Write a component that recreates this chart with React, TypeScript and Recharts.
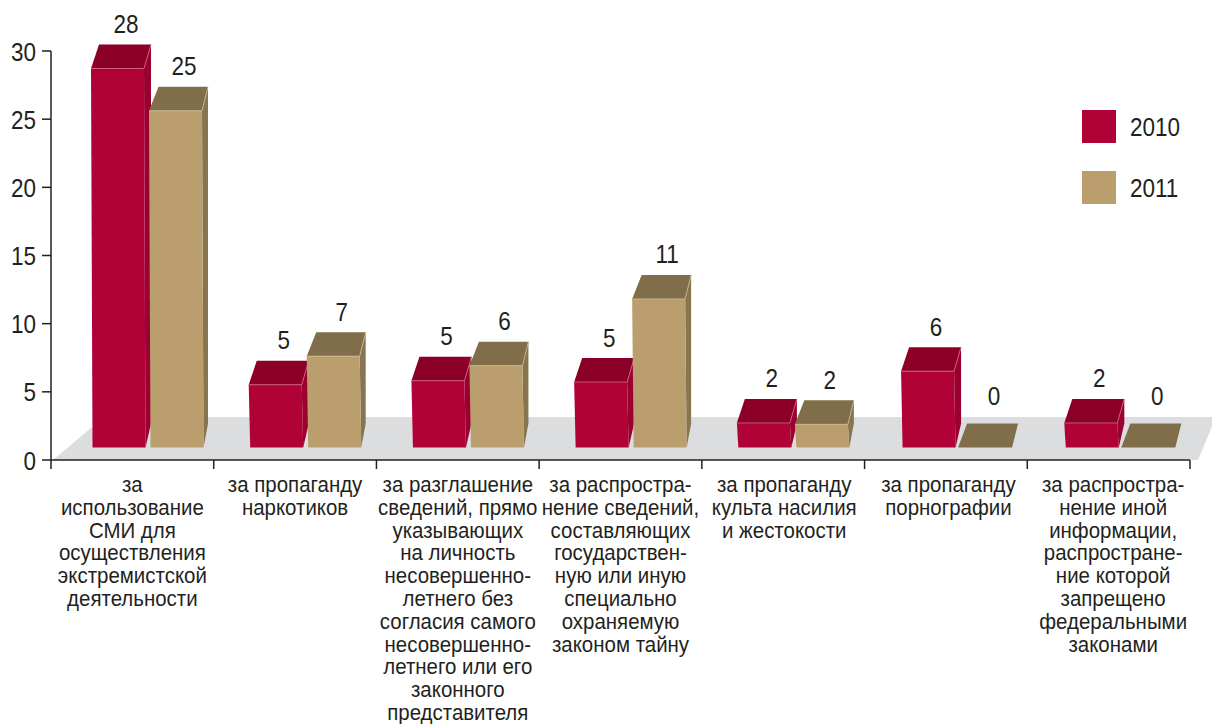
import { BarChart, Bar, XAxis, YAxis, ReferenceArea, LabelList, Legend } from "recharts";

const categories = [
  "за\nиспользование\nСМИ для\nосуществления\nэкстремистской\nдеятельности",
  "за пропаганду\nнаркотиков",
  "за разглашение\nсведений, прямо\nуказывающих\nна личность\nнесовершенно-\nлетнего без\nсогласия самого\nнесовершенно-\nлетнего или его\nзаконного\nпредставителя",
  "за распростра-\nнение сведений,\nсоставляющих\nгосударствен-\nную или иную\nспециально\nохраняемую\nзаконом тайну",
  "за пропаганду\nкульта насилия\nи жестокости",
  "за пропаганду\nпорнографии",
  "за распростра-\nнение иной\nинформации,\nраспростране-\nние которой\nзапрещено\nфедеральными\nзаконами",
];
const values2010 = [27.8, 4.6, 4.9, 4.8, 1.8, 5.6, 1.8];
const values2011 = [24.7, 6.7, 6.0, 10.9, 1.7, 0, 0];
const yTicks = [0, 5, 10, 15, 20, 25, 30];

const data = categories.map((name, i) => ({ name, y2010: values2010[i], y2011: values2011[i] }));

// no narrow face is installed, so the sans is squeezed horizontally
const FONT = "'Liberation Sans', sans-serif";
const SQUEEZE = 0.865;
const LABEL_SQUEEZE = 0.93;
const INK = "#231f20";
const WIDTH = 1212;
const HEIGHT = 724;
const BAND = (1190 - 51) / categories.length;
const BASE_LIFT = 12.5; // bars stand on the floor, not on the axis
const DEPTH = 24;

// the groups are not quite centred in their bands in the original
const groupShifts = [14, 9, 9, 9, 9, 10.5, 11];
const labelShifts = [0, 0, 0, 0, 1, 2.5, 4.5];

function makeBox(front: string, top: string, side: string, edge: string, backL: number, backR: number) {
  return function Box({ x, y, width, height, index }: any) {
    const l = x + groupShifts[index];
    const r = l + width;
    const t = y - BASE_LIFT;
    const b = t + height;
    if (height < 0.5) {
      return <polygon points={`${l - 1},${b} ${r},${b} ${r + 6},${b - DEPTH} ${l + 8},${b - DEPTH}`} fill={top} />;
    }
    return (
      <g>
        <polygon points={`${r},${t} ${r + backR},${t - DEPTH} ${r + backR},${b - DEPTH} ${r + 1.5},${b}`} fill={side} />
        <polygon points={`${l},${t} ${r},${t} ${r + backR},${t - DEPTH} ${l + backL},${t - DEPTH}`} fill={top} />
        <polygon points={`${l},${t} ${r},${t} ${r + 1.5},${b} ${l + 1.5},${b}`} fill={front} />
        <polyline points={`${l},${t} ${r},${t} ${r + backR},${t - DEPTH}`} fill="none" stroke={edge} strokeWidth={0.8} />
      </g>
    );
  };
}

const RedBox = makeBox("#b10238", "#8c0028", "#9a0030", "#d06a88", 8, 7);
const TanBox = makeBox("#bb9e6d", "#806e4a", "#877550", "#cdb996", 9.5, 6);

function ValueLabel({ x, y, width, value, index }: any) {
  const cx = x + width / 2 + groupShifts[index] + 8.5;
  const lift = value === 0 ? 55 : 48;
  return (
    <text
      transform={`translate(${cx} ${y - lift}) scale(${SQUEEZE} 1)`}
      textAnchor="middle"
      fontFamily={FONT}
      fontSize={26}
      fill={INK}
    >
      {Math.round(value)}
    </text>
  );
}

function Floor({ x, y, width, height }: any) {
  const b = y + height;
  return <polygon points={`${x + 2},${b} ${x + 53},${y} ${x + width + 26},${y} ${x + width + 8},${b}`} fill="#dcddde" />;
}

function CategoryTick({ x, y, payload, index }: any) {
  const lines = String(payload.value).split("\n");
  return (
    <g>
      <line x1={x - BAND / 2} x2={x - BAND / 2} y1={y} y2={y + 9} stroke={INK} strokeWidth={1.5} />
      {index === categories.length - 1 && (
        <line x1={x + BAND / 2} x2={x + BAND / 2} y1={y} y2={y + 9} stroke={INK} strokeWidth={1.5} />
      )}
      <text
        transform={`translate(${x + labelShifts[index]} ${y}) scale(${LABEL_SQUEEZE} 1)`}
        textAnchor="middle"
        fontFamily={FONT}
        fontSize={22}
        fill={INK}
      >
        {lines.map((line, i) => (
          <tspan key={i} x={0} y={32 + i * 22.8}>
            {line}
          </tspan>
        ))}
      </text>
    </g>
  );
}

function ValueTick({ x, y, payload }: any) {
  return (
    <text
      transform={`translate(${x} ${y + 9.5}) scale(${SQUEEZE} 1)`}
      textAnchor="end"
      fontFamily={FONT}
      fontSize={26}
      fill={INK}
    >
      {payload.value}
    </text>
  );
}

function SwatchLegend({ payload }: any) {
  return (
    <div style={{ fontFamily: FONT, fontSize: 26, color: INK }}>
      {(payload || []).map((item: any) => (
        <div key={item.value} style={{ display: "flex", alignItems: "center", height: 33, marginBottom: 28 }}>
          <span style={{ width: 34, height: 33, background: item.color, marginRight: 14 }} />
          <span style={{ display: "inline-block", transform: `scaleX(${SQUEEZE})`, transformOrigin: "left", paddingTop: 2 }}>
            {item.value}
          </span>
        </div>
      ))}
    </div>
  );
}

export default function App() {
  return (
    <div style={{ position: "absolute", left: 0, top: 0 }}>
      <BarChart
        width={WIDTH}
        height={HEIGHT}
        data={data}
        margin={{ top: 51, right: 22, bottom: 0, left: 0 }}
        barSize={53}
        barGap={5}
      >
        <ReferenceArea y1={0} y2={3.15} ifOverflow="visible" shape={<Floor />} />
        <XAxis
          dataKey="name"
          height={264}
          interval={0}
          tickLine={false}
          tickSize={0}
          tickMargin={0}
          axisLine={{ stroke: INK, strokeWidth: 1.5 }}
          tick={<CategoryTick />}
        />
        <YAxis
          width={51}
          domain={[0, 30]}
          ticks={yTicks}
          interval={0}
          tickSize={9}
          tickMargin={6}
          axisLine={{ stroke: INK, strokeWidth: 1.5 }}
          tickLine={{ stroke: INK, strokeWidth: 1.5 }}
          tick={<ValueTick />}
        />
        <Legend
          layout="horizontal"
          verticalAlign="middle"
          align="center"
          content={<SwatchLegend />}
          wrapperStyle={{ left: 1082, top: 110, width: 120, right: "auto" }}
        />
        <Bar dataKey="y2010" name="2010" fill="#b10238" shape={<RedBox />} isAnimationActive={false}>
          <LabelList dataKey="y2010" content={<ValueLabel />} />
        </Bar>
        <Bar dataKey="y2011" name="2011" fill="#bb9e6d" shape={<TanBox />} isAnimationActive={false}>
          <LabelList dataKey="y2011" content={<ValueLabel />} />
        </Bar>
      </BarChart>
    </div>
  );
}
